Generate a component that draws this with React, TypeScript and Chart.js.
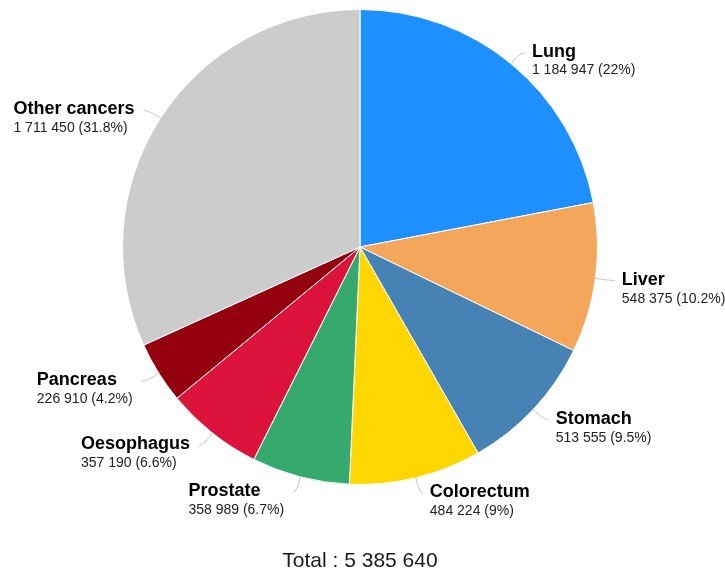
import React, { useEffect, useRef } from "react";
import { Chart, registerables } from "chart.js";

Chart.register(...registerables);

const categories = ["Lung", "Liver", "Stomach", "Colorectum", "Prostate", "Oesophagus", "Pancreas", "Other cancers"];
const values = [1184947, 548375, 513555, 484224, 358989, 357190, 226910, 1711450];
const colors = ["#1E90FF", "#F4A65A", "#4682B4", "#FFD700", "#35A96E", "#DC143C", "#95000E", "#CCCCCC"];
const totalLabel = "Total : 5 385 640";

const fmt = (n: number) => String(n).replace(/\B(?=(\d{3})+(?!\d))/g, " ");

const labelPlugin = {
  id: "outLabels",
  afterDraw(chart: any) {
    const ctx = chart.ctx;
    const meta = chart.getDatasetMeta(0);
    const total = values.reduce((a, b) => a + b, 0);
    ctx.save();
    meta.data.forEach((arc: any, i: number) => {
      const { x: cx, y: cy, outerRadius: r, startAngle, endAngle } = arc.getProps(["x", "y", "outerRadius", "startAngle", "endAngle"], true);
      const a = (startAngle + endAngle) / 2;
      const cos = Math.cos(a), sin = Math.sin(a);
      const right = cos >= 0;
      const sgn = right ? 1 : -1;
      const y1 = cy + sin * (r + 15.5) - 0.5;
      const edgeX = cx + cos * (r + 16.5) + sgn * 11;

      const pct = Math.round((values[i] / total) * 1000) / 10;
      const line1 = categories[i];
      const line2 = `${fmt(values[i])} (${pct}%)`;
      ctx.font = "bold 18px 'Liberation Sans', Arial, sans-serif";
      const w1 = ctx.measureText(line1).width;
      ctx.font = "14px 'Liberation Sans', Arial, sans-serif";
      const w2 = ctx.measureText(line2).width;
      const wMax = Math.max(w1, w2);
      const left = right ? edgeX - 1 : edgeX - wMax - 1;

      // connector
      const p0x = cx + cos * (r - 1), p0y = cy + sin * (r - 1);
      const endX = edgeX - sgn * 8, endY = y1 + 1;
      const p1x = cx + cos * (r + 10), p1y = cy + sin * (r + 10);
      ctx.strokeStyle = "#c8c8c8";
      ctx.lineWidth = 1;
      ctx.beginPath();
      ctx.moveTo(p0x, p0y);
      ctx.quadraticCurveTo(p1x, p1y + (endY - p1y) * 0.6, endX, endY);
      ctx.stroke();

      ctx.textAlign = "left";
      ctx.textBaseline = "middle";
      ctx.fillStyle = "#000";
      ctx.font = "bold 18px 'Liberation Sans', Arial, sans-serif";
      ctx.fillText(line1, left, y1);
      ctx.fillStyle = "#222";
      ctx.font = "14px 'Liberation Sans', Arial, sans-serif";
      ctx.fillText(line2, left, y1 + 19);
    });
    ctx.fillStyle = "#1a1a1a";
    ctx.font = "21px 'Liberation Sans', Arial, sans-serif";
    ctx.textAlign = "center";
    ctx.textBaseline = "middle";
    ctx.fillText(totalLabel, 360, 561);
    ctx.restore();
  },
};

export default function App() {
  const ref = useRef<HTMLCanvasElement>(null);
  useEffect(() => {
    if (!ref.current) return;
    const chart = new Chart(ref.current, {
      type: "pie",
      data: {
        labels: categories,
        datasets: [
          {
            data: values,
            backgroundColor: colors,
            borderColor: "#ffffff",
            borderWidth: 1,
          },
        ],
      },
      options: {
        animation: false,
        responsive: false,
        layout: { padding: { left: 122, right: 127, top: 9, bottom: 94 } },
        plugins: {
          legend: { display: false },
          tooltip: { enabled: false },
          title: { display: false },
        },
      },
      plugins: [labelPlugin],
    });
    return () => chart.destroy();
  }, []);
  return (
    <div style={{ position: "fixed", left: 0, top: 0, width: 725, height: 579, background: "#fff" }}>
      <canvas ref={ref} width={725} height={579} style={{ display: "block" }} />
    </div>
  );
}
